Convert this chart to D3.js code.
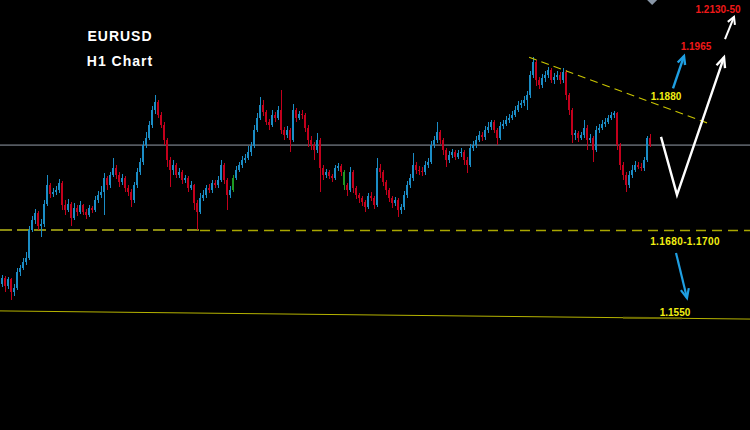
<!DOCTYPE html>
<html><head><meta charset="utf-8">
<script src="https://cdn.jsdelivr.net/npm/d3@7"></script>
<style>html,body{margin:0;padding:0;background:#000;overflow:hidden}</style>
</head><body><svg id="chart" width="750" height="430"></svg>
<script>
// ---- data (EURUSD H1 bars) ----
const firstOpen = 1.1598;
const closes = [
1.1608,1.1595,1.1606,1.1584,1.1591,1.1618,1.1625,1.1635,1.1642,1.1690,
1.1707,1.1719,1.1697,1.1700,1.1735,1.1767,1.1752,1.1755,1.1758,1.1770,
1.1733,1.1724,1.1735,1.1711,1.1728,1.1721,1.1733,1.1721,1.1716,1.1728,
1.1724,1.1741,1.1750,1.1755,1.1779,1.1767,1.1784,1.1796,1.1784,1.1772,
1.1779,1.1762,1.1755,1.1741,1.1767,1.1789,1.1806,1.1835,1.1847,1.1869,
1.1895,1.1909,1.1886,1.1869,1.1844,1.1810,1.1793,1.1801,1.1784,1.1789,
1.1775,1.1779,1.1762,1.1767,1.1736,1.1721,1.1745,1.1750,1.1762,1.1758,
1.1770,1.1767,1.1775,1.1801,1.1775,1.1750,1.1758,1.1779,1.1793,1.1801,
1.1810,1.1813,1.1823,1.1834,1.1861,1.1881,1.1903,1.1891,1.1874,1.1869,
1.1886,1.1881,1.1895,1.1861,1.1852,1.1861,1.1844,1.1895,1.1881,1.1888,
1.1886,1.1864,1.1844,1.1835,1.1827,1.1844,1.1796,1.1784,1.1789,1.1782,
1.1779,1.1796,1.1799,1.1789,1.1767,1.1758,1.1789,1.1762,1.1750,1.1745,
1.1738,1.1729,1.1748,1.1745,1.1733,1.1796,1.1789,1.1772,1.1758,1.1745,
1.1736,1.1741,1.1724,1.1729,1.1750,1.1767,1.1779,1.1801,1.1793,1.1791,
1.1789,1.1801,1.1806,1.1835,1.1844,1.1857,1.1844,1.1827,1.1810,1.1818,
1.1823,1.1815,1.1822,1.1823,1.1810,1.1801,1.1830,1.1835,1.1844,1.1852,
1.1849,1.1861,1.1866,1.1874,1.1861,1.1847,1.1868,1.1871,1.1878,1.1881,
1.1886,1.1895,1.1903,1.1907,1.1912,1.1921,1.1955,1.1977,1.1946,1.1938,
1.1950,1.1955,1.1963,1.1946,1.1951,1.1955,1.1946,1.1960,1.1921,1.1895,
1.1852,1.1856,1.1847,1.1852,1.1864,1.1844,1.1847,1.1827,1.1861,1.1864,
1.1871,1.1874,1.1881,1.1886,1.1890,1.1835,1.1801,1.1784,1.1767,1.1784,
1.1793,1.1801,1.1798,1.1796,1.1810,1.1847,1.1835];
const highs = [
1.1613,1.1611,1.1610,1.1608,1.1598,1.1625,1.1630,1.1642,1.1653,1.1697,
1.1714,1.1726,1.1723,1.1709,1.1741,1.1784,1.1770,1.1762,1.1765,1.1777,
1.1774,1.1741,1.1743,1.1738,1.1736,1.1733,1.1740,1.1735,1.1726,1.1733,
1.1731,1.1748,1.1757,1.1765,1.1787,1.1782,1.1789,1.1813,1.1801,1.1789,
1.1786,1.1782,1.1767,1.1760,1.1772,1.1796,1.1813,1.1842,1.1857,1.1876,
1.1902,1.1921,1.1912,1.1891,1.1874,1.1847,1.1815,1.1810,1.1804,1.1796,
1.1793,1.1784,1.1782,1.1774,1.1769,1.1741,1.1753,1.1758,1.1767,1.1769,
1.1775,1.1775,1.1782,1.1810,1.1804,1.1779,1.1765,1.1784,1.1799,1.1806,
1.1816,1.1820,1.1834,1.1840,1.1869,1.1890,1.1917,1.1912,1.1895,1.1880,
1.1895,1.1891,1.1902,1.1929,1.1866,1.1868,1.1864,1.1905,1.1898,1.1893,
1.1895,1.1890,1.1869,1.1851,1.1840,1.1856,1.1847,1.1801,1.1794,1.1793,
1.1786,1.1801,1.1804,1.1803,1.1793,1.1770,1.1798,1.1793,1.1765,1.1753,
1.1748,1.1741,1.1753,1.1755,1.1748,1.1813,1.1803,1.1793,1.1775,1.1762,
1.1748,1.1746,1.1745,1.1735,1.1757,1.1774,1.1786,1.1822,1.1806,1.1799,
1.1798,1.1808,1.1813,1.1842,1.1851,1.1874,1.1861,1.1847,1.1830,1.1825,
1.1828,1.1827,1.1827,1.1830,1.1827,1.1815,1.1837,1.1842,1.1851,1.1859,
1.1857,1.1868,1.1874,1.1878,1.1878,1.1864,1.1874,1.1878,1.1885,1.1888,
1.1893,1.1902,1.1910,1.1912,1.1919,1.1927,1.1962,1.1985,1.1980,1.1951,
1.1956,1.1962,1.1968,1.1967,1.1958,1.1962,1.1960,1.1967,1.1963,1.1924,
1.1898,1.1861,1.1859,1.1857,1.1878,1.1869,1.1854,1.1851,1.1868,1.1871,
1.1878,1.1881,1.1886,1.1891,1.1893,1.1891,1.1839,1.1806,1.1789,1.1791,
1.1801,1.1808,1.1806,1.1804,1.1815,1.1851,1.1854];
const lows = [
1.1593,1.1584,1.1589,1.1571,1.1577,1.1588,1.1611,1.1622,1.1630,1.1639,
1.1687,1.1700,1.1690,1.1678,1.1695,1.1731,1.1745,1.1746,1.1750,1.1753,
1.1724,1.1716,1.1721,1.1697,1.1707,1.1714,1.1717,1.1716,1.1709,1.1712,
1.1719,1.1721,1.1736,1.1745,1.1716,1.1758,1.1762,1.1781,1.1777,1.1764,
1.1767,1.1755,1.1748,1.1729,1.1736,1.1762,1.1784,1.1801,1.1830,1.1844,
1.1864,1.1888,1.1881,1.1864,1.1835,1.1798,1.1764,1.1784,1.1779,1.1779,
1.1769,1.1770,1.1755,1.1758,1.1724,1.1690,1.1717,1.1740,1.1745,1.1753,
1.1753,1.1762,1.1762,1.1772,1.1769,1.1724,1.1745,1.1755,1.1775,1.1789,
1.1796,1.1804,1.1810,1.1816,1.1830,1.1857,1.1878,1.1885,1.1869,1.1861,
1.1866,1.1874,1.1878,1.1854,1.1844,1.1847,1.1823,1.1840,1.1874,1.1878,
1.1880,1.1857,1.1832,1.1827,1.1810,1.1822,1.1755,1.1775,1.1779,1.1777,
1.1772,1.1775,1.1791,1.1782,1.1758,1.1748,1.1755,1.1753,1.1743,1.1736,
1.1731,1.1721,1.1726,1.1740,1.1726,1.1729,1.1779,1.1765,1.1750,1.1738,
1.1728,1.1731,1.1712,1.1717,1.1724,1.1745,1.1762,1.1774,1.1786,1.1784,
1.1782,1.1784,1.1796,1.1803,1.1830,1.1839,1.1837,1.1818,1.1798,1.1804,
1.1813,1.1810,1.1811,1.1815,1.1801,1.1787,1.1798,1.1825,1.1830,1.1840,
1.1842,1.1844,1.1856,1.1861,1.1856,1.1835,1.1844,1.1862,1.1868,1.1873,
1.1878,1.1883,1.1891,1.1898,1.1902,1.1895,1.1915,1.1950,1.1936,1.1931,
1.1932,1.1943,1.1950,1.1941,1.1939,1.1946,1.1939,1.1941,1.1912,1.1886,
1.1839,1.1844,1.1840,1.1844,1.1847,1.1827,1.1839,1.1806,1.1823,1.1856,
1.1861,1.1866,1.1871,1.1878,1.1881,1.1827,1.1793,1.1775,1.1755,1.1762,
1.1779,1.1789,1.1794,1.1791,1.1791,1.1806,1.1832];
const greenBars = [77, 114];

// annotation lines: [bar index, price]
const supportPrice = 1.1690;
const resistanceLine = [[175.7, 1.1985], [235, 1.1873]];
const lowerLine = [[-1, 1.1552], [250, 1.1538]];
const lowerLineMark = [[207, 1.15405], [226.7, 1.15395]];
const whitePath = [[219.67, 1.1849], [225, 1.1750], [240.67, 1.1985]];
const whiteSmall = [[241, 1.2016], [244, 1.2054]];
const blueUp = [[223.67, 1.1932], [227.33, 1.1987]];
const blueDown = [[224.67, 1.1651], [228.33, 1.1574]];
const shiftMarkIndex = 216.7;

// labels: text, bar index (centre), price (baseline)
const labelTexts  = ["1.2130-50", "1.1965", "1.1880", "1.1680-1.1700", "1.1550"];
const labelIdx    = [238.67, 231.33, 221.33, 227.67, 224.33];
const labelPrices = [1.2061, 1.1997, 1.1912, 1.1665, 1.1543];
const labelKinds  = ["target", "target", "level", "level", "level"];
const titleLines  = ["EURUSD", "H1 Chart"];

// ---- chart ----
const W = 750, H = 430;
const svg = d3.select("#chart");
svg.append("rect").attr("width", W).attr("height", H).attr("fill", "#000");

const n = closes.length;
const x = d3.scaleLinear().domain([0, n - 1]).range([2, 2 + 3 * (n - 1)]);
const y = d3.scaleLinear().domain([1.13487, 1.20827]).range([H, 0]);

const BLUE = "#1b8dc6", RED = "#c3001c", GREEN = "#1f9a22";

// bid line (last price)
const bid = closes[n - 1];
svg.append("line").attr("x1", 0).attr("x2", W)
  .attr("y1", y(bid)).attr("y2", y(bid))
  .attr("stroke", "#555a61").attr("stroke-width", 1.6);

// support dashed line (two segments)
const segSplit = 66; // bar index where line style changes
svg.append("line").attr("x1", 0).attr("x2", x(segSplit))
  .attr("y1", y(supportPrice)).attr("y2", y(supportPrice))
  .attr("stroke", "#8b8b12").attr("stroke-width", 2).attr("stroke-dasharray", "12,5");
svg.append("line").attr("x1", x(segSplit)).attr("x2", W)
  .attr("y1", y(supportPrice) + 0.5).attr("y2", y(supportPrice) + 0.5)
  .attr("stroke", "#a9a600").attr("stroke-width", 1.4).attr("stroke-dasharray", "10,6");

// candles
const g = svg.append("g").attr("shape-rendering", "crispEdges");
for (let i = 0; i < n; i++) {
  const o = i === 0 ? firstOpen : closes[i - 1];
  const c = closes[i];
  const col = greenBars.includes(i) ? GREEN : (c >= o ? BLUE : RED);
  const cx = x(i);
  const hi = Math.max(highs[i], o, c), lo = Math.min(lows[i], o, c);
  g.append("rect").attr("x", cx).attr("width", 1)
    .attr("y", y(hi)).attr("height", Math.max(1, y(lo) - y(hi))).attr("fill", col);
  const top = y(Math.max(o, c)), bot = y(Math.min(o, c));
  g.append("rect").attr("x", cx - 1).attr("width", 2)
    .attr("y", top).attr("height", Math.max(1, bot - top)).attr("fill", col);
}

const line = d3.line().x(d => x(d[0])).y(d => y(d[1]));

// lower solid line
svg.append("path").attr("d", line(lowerLine)).attr("fill", "none")
  .attr("stroke", "#b5b300").attr("stroke-width", 1);
svg.append("path").attr("d", line(lowerLineMark)).attr("fill", "none")
  .attr("stroke", "#6e6c00").attr("stroke-width", 2);

// resistance dashed trendline
svg.append("path").attr("d", line(resistanceLine)).attr("fill", "none")
  .attr("stroke", "#c9c400").attr("stroke-width", 1.2).attr("stroke-dasharray", "8,5");

// arrows
function arrow(pts, color, w, headLen, headAng) {
  const P = pts.map(d => [x(d[0]), y(d[1])]);
  svg.append("path").attr("d", d3.line()(P)).attr("fill", "none")
    .attr("stroke", color).attr("stroke-width", w)
    .attr("stroke-linejoin", "miter").attr("stroke-linecap", "butt");
  const [x1, y1] = P[P.length - 2], [x2, y2] = P[P.length - 1];
  const a = Math.atan2(y2 - y1, x2 - x1);
  const h1 = [x2 + headLen * Math.cos(a + Math.PI - headAng), y2 + headLen * Math.sin(a + Math.PI - headAng)];
  const h2 = [x2 + headLen * Math.cos(a + Math.PI + headAng), y2 + headLen * Math.sin(a + Math.PI + headAng)];
  svg.append("path").attr("d", d3.line()([h1, [x2, y2], h2])).attr("fill", "none")
    .attr("stroke", color).attr("stroke-width", w).attr("stroke-linejoin", "miter");
}
arrow(whitePath, "#ffffff", 2.4, 11, 0.42);
arrow(whiteSmall, "#ffffff", 2, 8, 0.5);
arrow(blueUp, "#1f9fe2", 2.4, 9, 0.45);
arrow(blueDown, "#1f9fe2", 2.2, 10, 0.42);

// chart-shift marker at top
const sx = x(shiftMarkIndex);
svg.append("path").attr("d", `M${sx - 5},0 L${sx + 5},0 L${sx},5 Z`).attr("fill", "#8896a6");

// labels
const FONT = "Arial, 'Liberation Sans', Helvetica, sans-serif";
labelTexts.forEach((t, k) => {
  svg.append("text").attr("x", x(labelIdx[k])).attr("y", y(labelPrices[k]))
    .attr("text-anchor", "middle").attr("font-family", FONT)
    .attr("font-weight", "bold").attr("font-size", 10)
    .attr("letter-spacing", t.length > 10 ? 0.4 : 0)
    .attr("fill", labelKinds[k] === "target" ? "#f01818" : "#f2ef12")
    .text(t);
});

// title
titleLines.forEach((t, k) => {
  svg.append("text").attr("x", 120).attr("y", 41 + k * 25)
    .attr("text-anchor", "middle").attr("font-family", FONT)
    .attr("font-weight", "bold").attr("font-size", 14).attr("letter-spacing", 1)
    .attr("fill", "#ffffff").text(t);
});
</script>
</body></html>
